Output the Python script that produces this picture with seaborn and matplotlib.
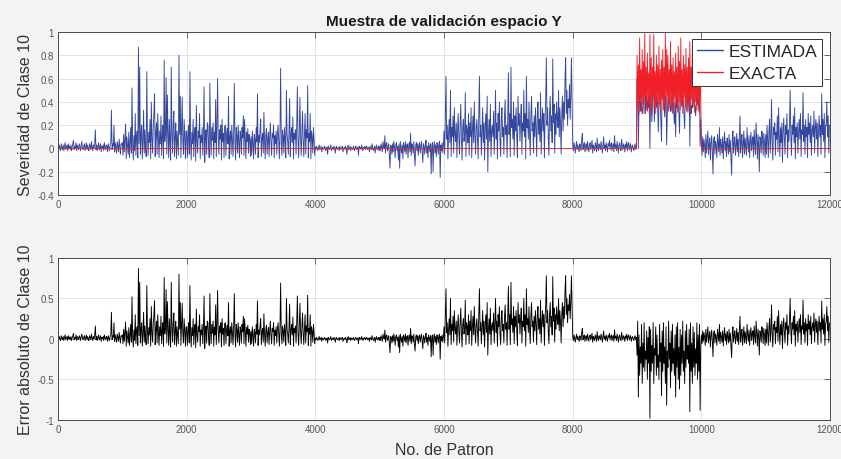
import numpy as np
import pandas as pd
import matplotlib
matplotlib.use("Agg")
import matplotlib.pyplot as plt
from matplotlib.ticker import FuncFormatter
import seaborn as sns

STEP = 10  # patterns between sampled values (100 samples per block of 1000)

# ESTIMADA values, one list per block of 1000 patterns
est_00 = [0.02,-0.01,0.03,0.00,-0.02,0.04,0.01,-0.01,0.03,-0.02,0.02,0.05,-0.01,0.01,0.03,-0.02,0.04,0.00,0.02,-0.01,
          0.03,-0.02,0.01,0.04,0.07,-0.01,0.02,0.00,0.05,-0.02,0.03,0.01,-0.01,0.04,0.02,-0.02,0.03,0.06,0.00,-0.01,
          0.02,0.04,-0.02,0.01,0.05,-0.01,0.03,0.00,-0.02,0.04,0.02,-0.01,0.06,0.01,-0.02,0.03,0.00,0.04,0.16,-0.01,
          0.03,-0.02,0.02,0.05,-0.01,0.01,0.04,-0.03,0.02,0.00,0.03,-0.02,0.05,0.01,-0.01,0.03,0.02,-0.03,0.04,0.01,
          -0.02,0.03,0.05,0.33,-0.01,0.04,0.02,0.20,-0.03,0.05,0.01,-0.04,0.06,0.02,-0.03,0.08,0.01,-0.05,0.04,0.03]
est_01 = [0.05,-0.06,0.12,-0.03,0.08,0.21,-0.09,0.10,0.02,-0.05,0.14,-0.08,0.06,0.18,-0.04,0.52,0.03,-0.10,0.11,-0.02,
          0.30,-0.06,0.09,0.15,-0.08,0.87,0.04,0.70,-0.05,0.12,0.20,-0.09,0.07,0.33,-0.04,0.16,0.02,-0.07,0.66,0.10,
          -0.06,0.14,0.05,0.25,-0.09,0.40,0.08,-0.04,0.18,0.30,0.47,-0.07,0.12,0.22,-0.05,0.30,0.09,-0.08,0.15,0.04,
          0.28,-0.06,0.10,0.20,-0.09,0.76,0.06,0.15,0.61,-0.05,0.46,0.12,-0.08,0.25,0.05,-0.10,0.70,0.14,-0.04,0.20,
          0.32,-0.07,0.10,0.22,-0.09,0.15,0.04,-0.06,0.80,0.12,0.45,-0.08,0.20,0.44,0.06,-0.05,0.25,0.10,-0.09,0.15]
est_02 = [0.15,-0.08,0.10,0.20,-0.05,0.66,0.08,-0.10,0.14,0.04,0.25,-0.07,0.12,0.18,-0.11,0.37,0.06,-0.04,0.15,0.09,
          0.30,-0.09,0.11,0.05,0.18,-0.06,0.14,0.53,-0.12,0.08,0.16,-0.05,0.22,0.20,0.03,-0.08,0.56,0.10,-0.06,0.18,
          0.07,0.22,-0.09,0.14,0.05,0.42,-0.07,0.19,0.60,0.10,-0.05,0.16,0.08,0.20,-0.10,0.25,0.06,0.13,-0.08,0.18,
          0.20,-0.06,0.12,0.17,0.04,0.45,-0.09,0.10,0.15,-0.05,0.20,0.08,-0.07,0.14,0.56,0.06,-0.10,0.18,0.11,-0.04,
          0.20,0.07,-0.08,0.15,0.12,-0.05,0.18,0.09,0.28,-0.06,0.25,0.10,-0.09,0.14,0.06,0.17,-0.04,0.12,0.08,-0.07]
est_03 = [0.10,-0.06,0.15,0.04,-0.09,0.12,0.08,-0.05,0.18,0.06,0.47,-0.08,0.11,0.05,0.16,0.25,-0.07,0.09,0.13,-0.04,
          0.31,0.06,-0.09,0.12,0.17,-0.05,0.08,0.14,-0.07,0.10,0.22,0.05,-0.06,0.13,0.09,0.20,-0.08,0.11,0.04,0.15,
          -0.05,0.12,0.20,0.07,-0.09,0.14,0.69,0.05,-0.06,0.16,0.10,-0.04,0.18,0.08,-0.08,0.50,0.12,0.06,-0.05,0.15,
          0.43,-0.07,0.11,0.18,0.05,0.27,-0.09,0.13,0.08,0.16,-0.05,0.20,0.53,0.07,-0.08,0.15,0.44,0.10,-0.06,0.14,
          0.32,0.08,-0.07,0.12,0.30,-0.05,0.16,0.09,0.54,-0.08,0.13,0.06,0.30,-0.09,0.15,0.10,-0.04,0.18,0.07,-0.06]
est_04 = [0.01,-0.01,0.02,0.00,-0.02,0.01,0.03,-0.01,0.00,0.02,-0.03,0.01,0.00,-0.01,0.02,0.01,-0.02,0.00,0.01,-0.05,
          0.02,0.00,-0.01,0.01,0.03,-0.02,0.00,0.01,-0.01,0.02,0.00,-0.04,0.01,0.02,-0.01,0.00,0.01,-0.02,0.02,0.00,
          -0.01,0.01,0.02,-0.03,0.00,0.01,-0.01,0.02,0.00,-0.05,0.01,0.03,-0.01,0.00,0.02,-0.02,0.01,0.00,-0.01,0.02,
          0.00,-0.02,0.01,0.02,-0.01,0.00,0.01,-0.06,0.02,0.00,0.01,-0.01,0.03,0.00,-0.02,0.01,0.00,0.02,-0.01,0.01,
          0.02,-0.01,0.00,0.01,-0.03,0.02,0.00,-0.01,0.04,0.01,-0.02,0.00,0.02,-0.04,0.01,0.03,-0.01,0.00,0.02,-0.02]
est_05 = [0.02,-0.02,0.04,0.01,-0.03,0.06,0.02,0.00,0.11,-0.04,0.03,0.05,-0.02,0.01,0.04,-0.06,-0.17,0.03,0.02,-0.05,
          0.04,-0.03,0.06,0.01,-0.08,0.03,0.05,-0.02,0.02,-0.10,0.04,-0.17,0.06,0.01,-0.04,0.03,-0.09,0.05,0.02,-0.03,
          0.06,-0.05,0.03,0.04,-0.08,0.02,0.05,-0.03,0.13,-0.06,0.04,0.02,-0.04,0.06,-0.07,-0.15,0.03,0.05,-0.02,0.04,
          -0.06,0.03,0.05,-0.04,0.02,0.06,-0.03,-0.12,0.04,0.02,-0.05,0.03,0.07,-0.04,0.02,-0.08,0.05,0.01,-0.03,0.04,
          -0.22,0.03,0.05,-0.20,0.02,0.06,-0.04,0.03,-0.07,0.05,0.02,-0.05,0.04,0.06,-0.25,0.03,-0.02,0.05,-0.04,0.03]
est_06 = [0.15,-0.05,0.30,0.62,0.08,0.20,-0.09,0.12,0.25,0.05,0.50,-0.07,0.18,0.10,0.28,-0.04,0.35,0.12,0.06,0.22,
          -0.08,0.15,0.30,0.10,-0.05,0.20,0.38,0.08,-0.10,0.18,0.25,0.06,0.12,0.48,-0.07,0.20,0.15,0.05,0.30,-0.06,
          0.22,0.10,0.35,-0.08,0.15,0.28,0.05,0.40,0.12,-0.05,0.18,0.25,0.08,-0.09,0.30,0.62,0.10,0.20,-0.06,0.15,
          0.35,0.05,0.22,-0.10,0.18,0.30,0.08,0.45,-0.20,0.12,0.25,0.06,0.38,-0.07,0.15,0.20,0.10,0.32,-0.05,0.18,
          0.50,0.08,0.22,-0.09,0.30,0.15,0.40,0.06,-0.07,0.25,0.35,0.10,0.18,-0.05,0.28,0.42,0.12,0.20,-0.08,0.30]
est_07 = [0.65,0.12,0.30,-0.07,0.70,0.18,0.25,0.08,0.40,-0.06,0.28,0.15,0.35,0.10,-0.08,0.45,0.20,0.30,0.06,0.25,
          0.38,-0.05,0.22,0.15,0.50,0.10,0.30,-0.09,0.62,0.18,0.25,0.08,0.40,0.12,-0.06,0.30,0.45,0.15,0.22,-0.04,
          0.28,0.10,0.35,0.18,-0.07,0.30,0.40,0.12,0.25,0.06,0.48,-0.05,0.20,0.35,0.15,0.30,-0.08,0.25,0.42,0.78,
          0.20,0.35,0.10,-0.06,0.30,0.45,0.15,0.28,0.05,0.77,0.22,0.38,-0.04,0.30,0.12,0.40,0.25,0.18,0.50,0.10,
          0.35,0.22,-0.05,0.30,0.45,0.15,0.40,0.25,0.60,0.78,0.30,0.50,0.20,0.42,0.35,0.55,0.25,0.45,0.78,0.40]
est_08 = [0.03,-0.02,0.05,0.01,-0.04,0.02,0.06,-0.01,0.03,0.00,-0.03,0.04,0.02,-0.02,0.08,0.13,-0.01,0.03,0.05,-0.03,
          0.02,0.04,-0.02,0.06,0.01,-0.03,0.03,0.05,-0.01,0.02,0.07,-0.04,0.03,0.01,-0.02,0.05,0.02,-0.03,0.09,0.01,
          -0.02,0.04,0.02,-0.01,0.06,0.03,-0.04,0.02,0.10,0.00,0.03,-0.02,0.05,0.01,-0.03,0.04,0.02,0.07,-0.01,0.03,
          0.05,-0.02,0.02,0.04,-0.03,0.11,0.01,0.03,-0.02,0.06,0.02,-0.04,0.03,0.05,0.00,-0.02,0.08,0.02,-0.01,0.04,
          0.02,-0.03,0.04,0.01,0.06,-0.02,0.03,0.05,-0.01,0.02,0.04,-0.03,0.01,0.03,0.00,-0.02,0.02,0.04,-0.01,0.02]
est_10 = [0.05,-0.06,0.10,-0.03,0.08,0.02,-0.08,0.12,-0.04,0.06,0.15,-0.05,0.03,0.09,-0.10,0.04,0.11,-0.02,-0.22,0.07,
          0.10,-0.05,0.06,0.02,-0.08,0.12,0.04,-0.03,0.18,-0.06,0.08,0.03,-0.04,0.10,-0.09,0.05,0.14,-0.02,0.06,-0.07,
          0.09,0.03,-0.05,0.12,-0.03,0.07,-0.10,-0.23,0.08,0.15,-0.04,0.05,0.10,-0.06,0.02,0.13,-0.03,0.08,-0.07,0.11,
          0.28,-0.04,0.06,0.12,-0.08,0.03,0.15,-0.05,0.09,0.02,-0.06,0.18,0.05,-0.03,0.11,-0.08,0.07,0.14,-0.02,0.06,
          0.10,-0.07,0.16,0.04,-0.05,0.22,0.08,-0.09,0.12,0.03,-0.20,0.10,0.06,-0.04,0.15,0.09,-0.06,0.13,0.05,-0.08]
est_11 = [0.12,-0.05,0.20,0.08,-0.08,0.15,0.25,-0.04,0.10,0.42,0.05,-0.10,0.18,0.12,0.22,-0.06,0.14,0.08,0.28,-0.03,
          0.35,0.10,-0.07,0.18,0.05,0.22,-0.12,0.15,0.26,0.08,-0.05,0.20,0.12,0.30,-0.08,0.16,0.06,0.24,0.50,0.10,
          -0.06,0.20,0.12,0.28,0.05,0.35,-0.09,0.18,0.10,0.22,-0.04,0.14,0.25,0.08,0.30,-0.07,0.16,0.12,0.48,0.06,
          0.20,-0.05,0.25,0.10,0.18,-0.08,0.30,0.12,0.22,0.05,0.28,-0.06,0.15,0.20,0.10,0.32,-0.04,0.18,0.25,0.08,
          0.22,-0.07,0.15,0.28,0.10,0.20,-0.05,0.47,0.12,0.25,0.06,0.30,-0.08,0.18,0.22,0.40,0.10,0.28,-0.04,0.20]

exa_09 = [0.80,0.35,0.72,0.30,0.95,0.42,0.68,0.32,0.85,0.38,0.75,0.30,1.00,0.45,0.70,0.33,0.82,0.40,0.65,0.30,
          0.98,0.36,0.78,0.31,0.70,0.44,0.98,0.35,0.66,0.30,0.80,0.40,0.72,0.34,0.88,0.38,0.68,0.31,0.76,0.42,
          0.85,0.33,0.70,0.37,1.00,0.30,0.85,0.45,0.80,0.32,0.68,0.40,0.92,0.35,0.72,0.30,0.78,0.43,0.66,0.34,
          0.82,0.38,0.70,0.31,0.88,0.40,0.75,0.33,0.95,0.36,0.68,0.30,0.80,0.44,0.72,0.35,0.86,0.32,0.70,0.39,
          0.78,0.34,0.92,0.30,0.70,0.42,0.90,0.36,0.74,0.31,0.82,0.40,0.68,0.33,0.88,0.37,0.72,0.30,0.90,0.35]
err_09 = [-0.20,0.22,-0.72,0.05,-0.45,-0.10,-0.30,0.18,-0.55,-0.05,-0.35,0.20,-0.40,-0.15,-0.25,0.10,-0.50,0.02,-0.30,0.15,
          -0.98,0.12,-0.40,-0.08,-0.30,0.20,-0.55,-0.12,-0.20,0.15,-0.45,0.05,-0.35,-0.20,-0.50,0.18,-0.28,-0.05,-0.70,0.10,
          -0.40,0.20,-0.30,-0.10,-0.55,0.15,-0.82,-0.15,-0.35,0.22,-0.25,-0.05,-0.60,0.10,-0.40,0.18,-0.30,-0.12,-0.45,0.05,
          -0.72,0.15,-0.35,0.20,-0.50,-0.10,-0.62,0.12,-0.45,0.05,-0.30,0.22,-0.40,-0.15,-0.55,0.10,-0.35,0.18,-0.25,-0.08,
          -0.30,0.12,-0.90,0.20,-0.40,-0.05,-0.55,0.15,-0.35,0.08,-0.45,-0.12,-0.30,0.20,-0.50,0.05,-0.40,0.18,-0.88,-0.10]
est_09 = [x + e for x, e in zip(exa_09, err_09)]
exa_zero_block = [0.0] * 100

estimada = (est_00 + est_01 + est_02 + est_03 + est_04 + est_05 + est_06 + est_07 +
            est_08 + est_09 + est_10 + est_11)
exacta = exa_zero_block * 9 + exa_09 + exa_zero_block * 2

xticks = [0, 2000, 4000, 6000, 8000, 10000, 12000]
yticks_top = [-0.4, -0.2, 0, 0.2, 0.4, 0.6, 0.8, 1]
yticks_bot = [-1, -0.5, 0, 0.5, 1]

df = pd.DataFrame({"patron": np.arange(len(estimada)) * STEP,
                   "estimada": estimada, "exacta": exacta})
df["error"] = df["estimada"] - df["exacta"]

sns.set_style("white")
plt.rcParams["font.family"] = ["Liberation Sans", "DejaVu Sans"]

fig = plt.figure(figsize=(8.41, 4.60), dpi=100, facecolor="#f2f3f5")
ax1 = fig.add_axes([0.069, 0.574, 0.918, 0.354])
ax2 = fig.add_axes([0.069, 0.085, 0.918, 0.352])

blue = "#34479d"
red = "#f01f28"

sns.lineplot(data=df, x="patron", y="estimada", ax=ax1, color=blue, linewidth=0.65,
             estimator=None, label="ESTIMADA")
sns.lineplot(data=df, x="patron", y="exacta", ax=ax1, color=red, linewidth=0.65,
             estimator=None, label="EXACTA")
sns.lineplot(data=df, x="patron", y="error", ax=ax2, color="black", linewidth=0.65,
             estimator=None)

fmt = FuncFormatter(lambda v, p: ("%g" % v))
for ax, yt, lim in [(ax1, yticks_top, (-0.4, 1)), (ax2, yticks_bot, (-1, 1))]:
    ax.set_facecolor("white")
    ax.set_xlim(0, 12000)
    ax.set_ylim(*lim)
    ax.set_xticks(xticks)
    ax.set_yticks(yt)
    ax.xaxis.set_major_formatter(fmt)
    ax.yaxis.set_major_formatter(fmt)
    ax.grid(True, color="#e3e3e3", linewidth=0.7)
    ax.set_axisbelow(True)
    ax.tick_params(direction="in", length=4, width=0.6, colors="#555555",
                   labelsize=7, top=True, right=True, pad=3)
    for s in ax.spines.values():
        s.set_color("#4a4a4a")
        s.set_linewidth(0.7)
    ax.set_xlabel("")

ax1.set_title("Muestra de validación espacio Y", fontsize=11, fontweight="bold",
              color="#1a1a1a", pad=5)
ax1.set_ylabel("Severidad de Clase 10", fontsize=11.5, color="#333333")
ax1.yaxis.set_label_coords(-0.032, 0.5)
ax2.set_ylabel("Error absoluto de Clase 10", fontsize=11.5, color="#333333")
ax2.yaxis.set_label_coords(-0.032, 0.5)
ax2.set_xlabel("No. de Patron", fontsize=11.5, color="#333333")
ax2.xaxis.set_label_coords(0.5, -0.135)

leg = ax1.legend(loc="upper right", bbox_to_anchor=(0.99, 0.96), borderaxespad=0,
                 fontsize=12.5, frameon=True, fancybox=False, framealpha=1,
                 handlelength=1.5, handletextpad=0.3, borderpad=0.3, labelspacing=0.4)
leg.get_frame().set_edgecolor("#333333")
leg.get_frame().set_linewidth(0.7)
for h in leg.get_lines():
    h.set_linewidth(1.0)

fig.savefig("out.png", dpi=100, facecolor=fig.get_facecolor())
